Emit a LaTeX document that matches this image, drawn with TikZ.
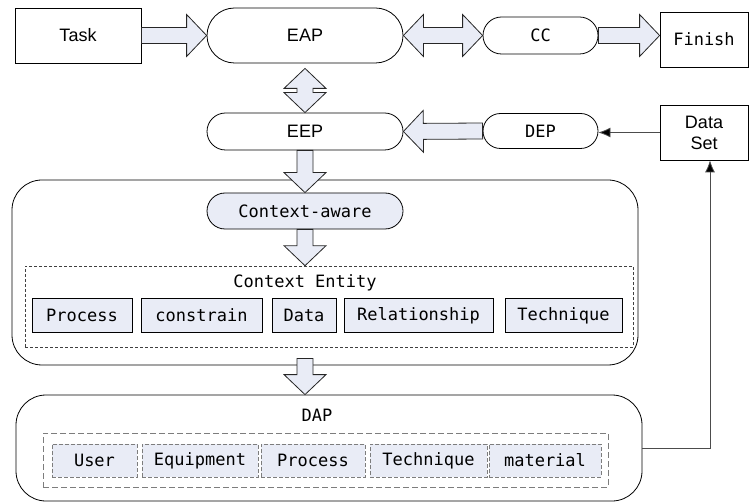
\documentclass[tikz,border=0pt]{standalone}
\usepackage{fontspec}
\setmainfont{Liberation Sans}
\newfontfamily\monofont{DejaVu Sans Mono}
\usetikzlibrary{shapes.misc,arrows.meta,calc}
\definecolor{boxfill}{RGB}{233,236,246}
\definecolor{dashgray}{RGB}{125,125,125}
% block arrow from #1 to #2
\newcommand{\fatarrow}[2]{%
  \coordinate (fa1) at ($(#2)!20pt!(#1)$);
  \draw[fat] ($(#1)!8pt!90:(#2)$) -- ($(fa1)!8pt!90:(#2)$) -- ($(fa1)!21pt!90:(#2)$) -- (#2)
    -- ($(fa1)!21pt!-90:(#2)$) -- ($(fa1)!8pt!-90:(#2)$) -- ($(#1)!8pt!-90:(#2)$) -- cycle;
}
% block arrow with two heads
\newcommand{\fatdarrow}[2]{%
  \coordinate (fa1) at ($(#2)!20pt!(#1)$);
  \coordinate (fa2) at ($(#1)!20pt!(#2)$);
  \draw[fat] (#1) -- ($(fa2)!21pt!90:(#2)$) -- ($(fa2)!8pt!90:(#2)$) -- ($(fa1)!8pt!90:(#2)$)
    -- ($(fa1)!21pt!90:(#2)$) -- (#2) -- ($(fa1)!21pt!-90:(#2)$) -- ($(fa1)!8pt!-90:(#2)$)
    -- ($(fa2)!8pt!-90:(#2)$) -- ($(fa2)!21pt!-90:(#2)$) -- cycle;
}
\begin{document}
\begin{tikzpicture}[x=1pt,y=-1pt,line width=0.8pt,
    font=\fontsize{18}{21}\selectfont,
    mono/.style={font=\fontsize{17}{20}\selectfont\monofont},
    box/.style={draw,rectangle,inner sep=0pt},
    pill/.style={draw,rounded rectangle,inner sep=0pt},
    item/.style={box,mono,fill=boxfill,minimum height=34},
    dapitem/.style={box,mono,fill=boxfill,draw=dashgray,dash pattern=on 4pt off 2pt,minimum height=33},
    fat/.style={draw=black!85,fill=boxfill,line join=miter},
    thinarrow/.style={draw=black!70,-{Latex[length=12pt,width=10pt,fill=black]}}]
  \useasboundingbox (0,0) rectangle (749,502);
  % top row
  \node[box,minimum width=126,minimum height=55] (task) at (78,35.5) {Task};
  \node[pill,minimum width=196,minimum height=55] (eap) at (305,35.5) {EAP};
  \node[pill,mono,minimum width=115,minimum height=37] (cc) at (540.5,35.5) {CC};
  \node[box,mono,minimum width=88,minimum height=55] (finish) at (704,39.5) {Finish};
  % second row
  \node[pill,minimum width=196,minimum height=37] (eep) at (305,131.5) {EEP};
  \node[pill,mono,minimum width=115,minimum height=35] (dep) at (540.5,131) {DEP};
  \node[box,align=center,minimum width=88,minimum height=55] (ds) at (704,132.5) {Data\\Set};
  % context part
  \node[draw,rounded corners=30,minimum width=626,minimum height=185] (ctx) at (325,272.5) {};
  \node[pill,mono,fill=boxfill,minimum width=196,minimum height=36] (aware) at (305,211) {Context-aware};
  \node[draw=black!75,dash pattern=on 3pt off 2pt,line width=0.6pt,minimum width=608,minimum height=81] (ent) at (329,306.5) {};
  \node[mono] (entlbl) at (305,283) {Context Entity};
  \foreach \i/\x/\w/\t in {1/82/100/Process, 2/201.5/121/constrain, 3/304/64/Data,
                           4/418.5/149/Relationship, 5/563.5/117/Technique}{
    \node[item,minimum width=\w] (E\i) at (\x,315.5) {\t};
  }
  % DAP part
  \node[draw,rounded corners=30,minimum width=626,minimum height=106] (dap) at (329,448) {};
  \node[mono] (daplbl) at (317,415) {DAP};
  \node[draw=dashgray,dash pattern=on 6pt off 3pt,minimum width=565,minimum height=54] (dapset) at (325.5,460) {};
  \foreach \i/\x/\w/\t in {1/94.5/85/User, 2/200/116/Equipment, 3/313/104/Process,
                           4/428.5/117/Technique, 5/545/112/material}{
    \node[dapitem,minimum width=\w] (D\i) at (\x,460.5) {\t};
  }
  % block arrows
  \fatarrow{task.east}{eap.west}
  \fatdarrow{eap.east}{cc.west}
  \fatarrow{cc.east}{cc.east -| finish.west}
  \fatdarrow{$(eap.south)+(0,5)$}{eep.north}
  \fatarrow{dep.west}{eep.east}
  \fatarrow{eep.south}{aware.north}
  \fatarrow{aware.south}{aware.south |- ent.north}
  \fatarrow{$(aware.south |- ctx.south)+(0,-7)$}{aware.south |- dap.north}
  % data set links
  \draw[thinarrow] (ds.west) -- (ds.west -| dep.east);
  \draw[thinarrow] (dap.east) -| ($(ds.south)+(6,0)$);
\end{tikzpicture}
\end{document}
